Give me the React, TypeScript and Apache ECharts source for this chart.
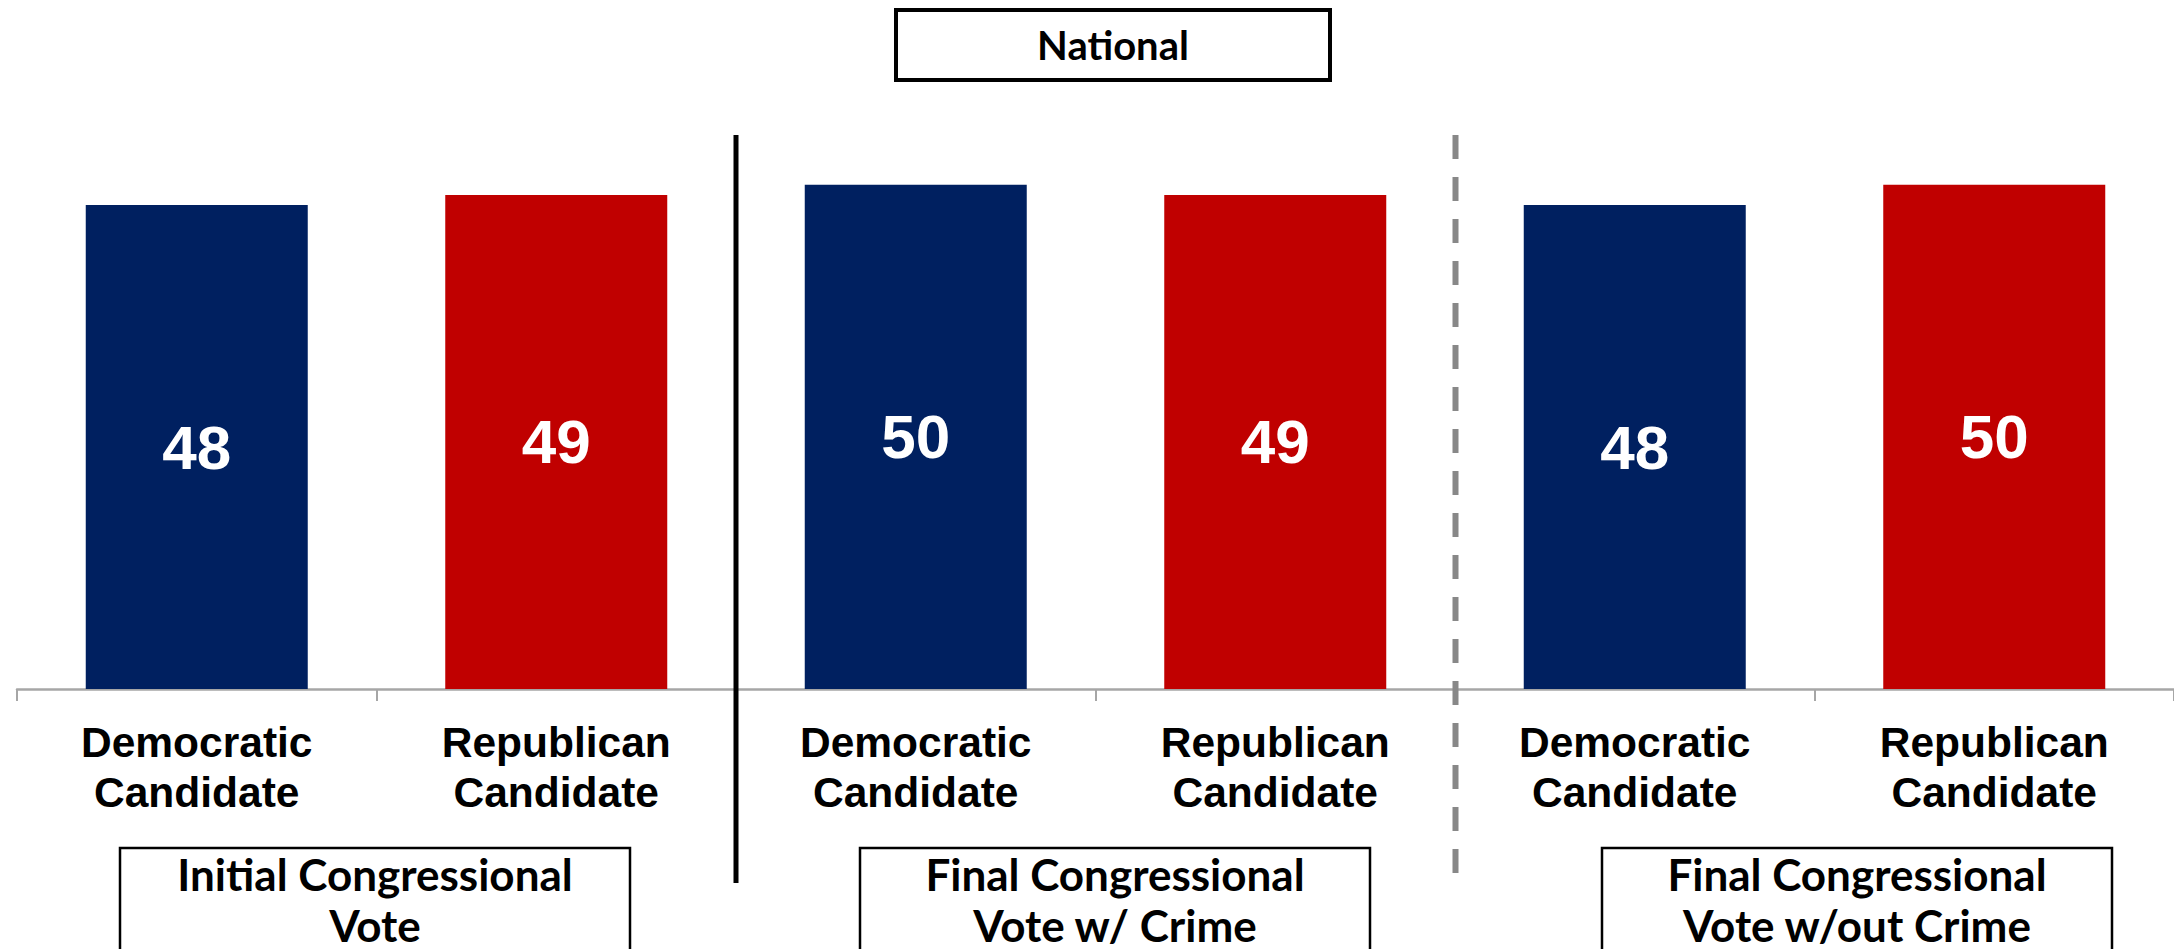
import React, { useEffect, useRef } from "react";
import * as echarts from "echarts";

const title = "National";
const groups = ["Initial Congressional\nVote", "Final Congressional\nVote w/ Crime", "Final Congressional\nVote w/out Crime"];
const candidates = ["Democratic\nCandidate", "Republican\nCandidate"];
const values = [48, 49, 50, 49, 48, 50];
const barColors = ["#002060", "#C00000"];

export default function App() {
  const ref = useRef<HTMLDivElement>(null);
  useEffect(() => {
    if (!ref.current) return;
    const chart = echarts.init(ref.current, undefined, { renderer: "svg" });
    const cats: string[] = [];
    groups.forEach((g, gi) => candidates.forEach((c) => cats.push(gi + "|" + c)));
    const boxX = [120, 860, 1602];
    const boxW = 510;
    const graphics: any[] = [
      {
        type: "rect",
        shape: { x: 896, y: 10, width: 434, height: 70 },
        style: { fill: "#fff", stroke: "#000", lineWidth: 4 },
      },
      {
        type: "text",
        x: 1113,
        y: 45,
        style: { text: title, fill: "#000", font: "bold 40px Lato", align: "center", verticalAlign: "middle" },
      },
      {
        type: "line",
        shape: { x1: 736, y1: 135, x2: 736, y2: 883 },
        style: { stroke: "#000", lineWidth: 5 },
        z: 10,
      },
      {
        type: "line",
        shape: { x1: 1455.5, y1: 135, x2: 1455.5, y2: 873 },
        style: { stroke: "#888888", lineWidth: 6, lineDash: [24, 18] },
        z: 10,
      },
    ];
    groups.forEach((g, i) => {
      graphics.push({
        type: "rect",
        shape: { x: boxX[i], y: 848, width: boxW, height: 140 },
        style: { fill: "#fff", stroke: "#000", lineWidth: 2.5 },
      });
      graphics.push({
        type: "text",
        x: boxX[i] + boxW / 2,
        y: 848,
        style: { text: g, fill: "#000", font: "bold 44px Lato", align: "center", verticalAlign: "top", lineHeight: 51 },
      });
    });
    chart.setOption({
      animation: false,
      grid: { left: 17, right: 0, top: 84, bottom: 260, containLabel: false },
      xAxis: {
        type: "category",
        data: cats,
        axisLine: { show: true, lineStyle: { color: "#a6a6a6", width: 2.5 } },
        axisTick: { show: true, length: 12, lineStyle: { color: "#a6a6a6", width: 2 } },
        axisLabel: {
          formatter: (v: string) => v.split("|")[1],
          color: "#000",
          fontFamily: "Liberation Sans",
          fontWeight: "bold",
          fontSize: 42.5,
          lineHeight: 50,
          margin: 28,
          interval: 0,
        },
      },
      yAxis: { type: "value", min: 0, max: 60, show: false, splitLine: { show: false } },
      series: [
        {
          type: "bar",
          data: values.map((v, i) => ({ value: v, itemStyle: { color: barColors[i % 2] } })),
          barWidth: 222,
          label: {
            show: true,
            position: "inside",
            color: "#fff",
            fontFamily: "Liberation Sans",
            fontWeight: "bold",
            fontSize: 62,
          },
        },
      ],
      graphic: graphics,
    });
    return () => chart.dispose();
  }, []);
  return <div ref={ref} style={{ position: "absolute", left: 0, top: 0, width: 2174, height: 949 }} />;
}
